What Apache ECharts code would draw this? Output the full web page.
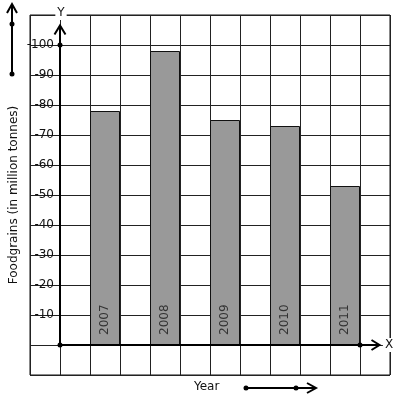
<!DOCTYPE html>
<html>
<head>
<meta charset="utf-8">
<script src="https://cdn.jsdelivr.net/npm/echarts@6/dist/echarts.min.js"></script>
<style>
  html, body { margin: 0; padding: 0; background: #fff; }
  #chart { width: 397px; height: 401px; }
</style>
</head>
<body>
<div id="chart"></div>
<script>
const years = ['2007', '2008', '2009', '2010', '2011']
const foodgrains = [78, 98, 75, 73, 53]
const yTicks = [10, 20, 30, 40, 50, 60, 70, 80, 90, 100]

const FONT = 'DejaVu Sans'
const INK = '#111'

let chart = echarts.init(document.getElementById('chart'))

// one bar in every second column of the squared paper
let barData = foodgrains.map(function (v, i) {
  return {value: [1.5 + 2 * i, v], name: years[i]}
})

let option = {
  animation: false,
  textStyle: {fontFamily: FONT},
  grid: {
    left: 30, top: 15, width: 360, height: 360,
    containLabel: false, outerBoundsMode: 'none',
    show: true, borderColor: INK, borderWidth: 1
  },
  xAxis: {
    type: 'value', min: -1, max: 11, interval: 1,
    axisLine: {show: false}, axisTick: {show: false}, axisLabel: {show: false},
    splitLine: {show: true, lineStyle: {color: '#222', width: 1}}
  },
  yAxis: {
    type: 'value', min: -10, max: 110, interval: 10,
    // labels sit beside the y axis, one column in from the paper edge
    offset: -30,
    axisLine: {show: false, onZero: false}, axisTick: {show: false},
    axisLabel: {
      margin: 6, color: INK, fontSize: 12, fontFamily: FONT,
      formatter: function (v) { return yTicks.indexOf(v) >= 0 ? '-' + v : '' }
    },
    splitLine: {show: true, lineStyle: {color: '#222', width: 1}},
    name: 'Foodgrains (in million tonnes)', nameLocation: 'middle', nameGap: 40, nameRotate: 90,
    nameMoveOverlap: false,
    nameTextStyle: {fontSize: 12, color: INK, fontFamily: FONT}
  },
  series: [{
    type: 'bar',
    data: barData,
    barWidth: 30,
    itemStyle: {color: '#999999', borderColor: INK, borderWidth: 1},
    label: {
      show: true, position: 'insideBottom', rotate: 90, distance: 10,
      align: 'left', verticalAlign: 'middle',
      formatter: function (p) { return p.name },
      color: '#333', fontSize: 12, fontFamily: FONT
    }
  }]
}
chart.setOption(option)

// axes with arrows and dots, drawn on top of the grid
function px(x, y) { return chart.convertToPixel({gridIndex: 0}, [x, y]) }

function seg(x1, y1, x2, y2) {
  return {type: 'line', z: 100, shape: {x1: x1, y1: y1, x2: x2, y2: y2}, style: {stroke: '#000', lineWidth: 2}}
}
function head(points) {
  return {type: 'polyline', z: 100, shape: {points: points}, style: {stroke: '#000', lineWidth: 2, fill: null}}
}
function dot(x, y) {
  return {type: 'circle', z: 101, shape: {cx: x, cy: y, r: 2.5}, style: {fill: '#000'}}
}
function label(text, x, y, align, bg) {
  return {
    type: 'text', z: 102, x: x, y: y,
    style: {
      text: text, fill: INK, fontSize: 12, fontFamily: FONT,
      align: align, verticalAlign: 'middle',
      backgroundColor: bg ? '#fff' : null, padding: bg ? [1, 2] : 0
    }
  }
}

let o = px(0, 0)
let yTop = px(0, 106.5)
let y100 = px(0, 100)
let xTop = px(10.65, 0)
let xDot = px(10, 0)

let graphic = [
  seg(o[0], o[1], yTop[0], yTop[1]),
  head([[yTop[0] - 5.5, yTop[1] + 9], [yTop[0], yTop[1]], [yTop[0] + 5.5, yTop[1] + 9]]),
  dot(y100[0], y100[1]),
  dot(o[0], o[1]),
  seg(o[0], o[1], xTop[0], xTop[1]),
  head([[xTop[0] - 8, xTop[1] - 5], [xTop[0], xTop[1]], [xTop[0] - 8, xTop[1] + 5]]),
  dot(xDot[0], xDot[1]),
  label('Y', 61, 13, 'center', true),
  label('X', 389, o[1], 'center', true),
  // side arrow
  seg(12, 5, 12, 74),
  head([[7, 13], [12, 4], [17, 13]]),
  dot(12, 24),
  dot(12, 74),
  // bottom arrow
  label('Year', 194, 387, 'left', false),
  seg(246, 388, 315, 388),
  head([[307, 383], [316, 388], [307, 393]]),
  dot(246, 388),
  dot(296, 388)
]
chart.setOption({graphic: graphic})
</script>
</body>
</html>
